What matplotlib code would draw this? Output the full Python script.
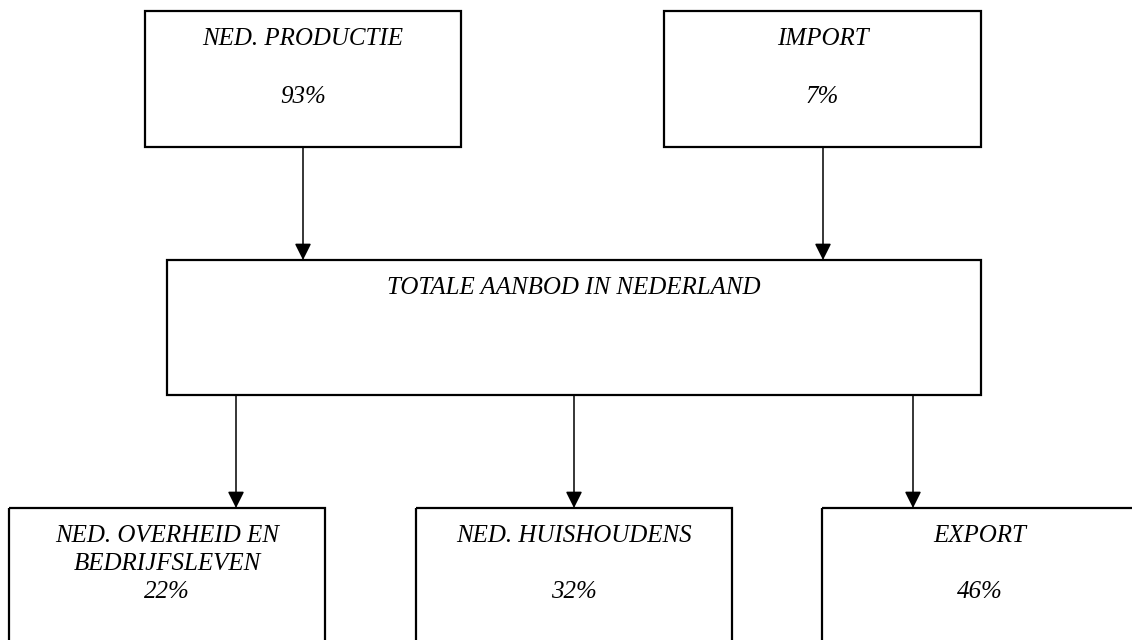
import matplotlib
matplotlib.use("Agg")
import matplotlib.pyplot as plt
from matplotlib.patches import Rectangle, FancyArrowPatch

# data
source_labels = ["NED. PRODUCTIE", "IMPORT"]
source_shares = ["93%", "7%"]
total_label = "TOTALE AANBOD IN NEDERLAND"
use_labels = ["NED. OVERHEID EN\nBEDRIJFSLEVEN", "NED. HUISHOUDENS", "EXPORT"]
use_shares = ["22%", "32%", "46%"]

# layout (pixels, y pointing down)
top_boxes = [(145, 11, 316, 136), (664, 11, 317, 136)]
mid_box = (167, 260, 814, 135)
bottom_boxes = [(9, 508, 316, 160), (416, 508, 316, 160), (822, 508, 316, 160)]
top_arrow_x = [303, 823]
bottom_arrow_x = [236, 574, 913]

fig = plt.figure(figsize=(11.32, 6.4), dpi=100)
ax = fig.add_axes([0, 0, 1, 1])
ax.set_xlim(0, 1132)
ax.set_ylim(640, 0)
ax.axis("off")

font = dict(family="Liberation Serif", style="italic", fontsize=18,
            ha="center", va="baseline", color="black")


def box(x, y, w, h):
    ax.add_patch(Rectangle((x, y), w, h, fill=False, edgecolor="black",
                           linewidth=1.6, clip_on=False))


def arrow(x, y0, y1):
    ax.add_patch(FancyArrowPatch((x, y0), (x, y1),
                                 arrowstyle="-|>,head_length=1.0,head_width=0.5",
                                 mutation_scale=10, color="black",
                                 linewidth=1.1, shrinkA=0, shrinkB=0))


# top row
for (x, y, w, h), label, share in zip(top_boxes, source_labels, source_shares):
    box(x, y, w, h)
    ax.text(x + w / 2, y + 34, label, **font)
    ax.text(x + w / 2, y + 92, share, **font)

for ax_x in top_arrow_x:
    arrow(ax_x, 147, 260)

# middle box
x, y, w, h = mid_box
box(x, y, w, h)
ax.text(x + w / 2, y + 34, total_label, **font)

for ax_x in bottom_arrow_x:
    arrow(ax_x, 395, 508)

# bottom row
for (x, y, w, h), label, share in zip(bottom_boxes, use_labels, use_shares):
    box(x, y, w, h)
    lines = label.split("\n")
    for i, line in enumerate(lines):
        ax.text(x + w / 2, y + 34 + 28 * i, line, **font)
    if len(lines) > 1:
        ax.text(x + w / 2, y + 90, share, **font)
    else:
        ax.text(x + w / 2, y + 90, share, **font)

fig.savefig("out.png", dpi=100)
